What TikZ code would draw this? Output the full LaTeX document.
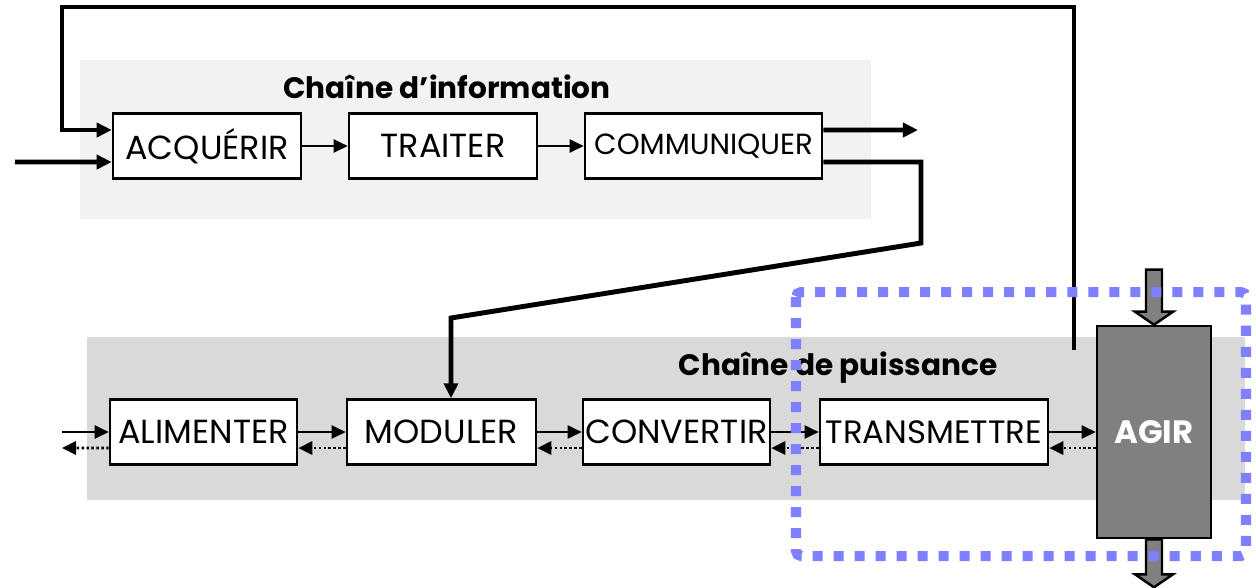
\documentclass[tikz,border=0pt]{standalone}
\usepackage{fontspec}
\setmainfont{Poppins}
\usetikzlibrary{arrows.meta}
\definecolor{infobg}{HTML}{F2F2F2}
\definecolor{powerbg}{HTML}{D9D9D9}
\definecolor{agirgray}{HTML}{808080}
\definecolor{zone}{HTML}{8080FF}

\tikzset{
  fct/.style={draw, line width=0.7pt, fill=white, inner sep=0pt,
    minimum height=0.65cm, font=\fontsize{9.5}{11}\selectfont},
  flow/.style={line width=0.6pt, -{Triangle[length=0.14cm,width=0.13cm]}},
  back/.style={line width=0.8pt, dash pattern=on 0.7pt off 0.7pt,
    -{Triangle[length=0.14cm,width=0.13cm]}},
  info/.style={line width=1.4pt, line join=miter},
  infoarrow/.style={info, -{Triangle[length=0.15cm,width=0.14cm]}},
  chaintitle/.style={font=\fontsize{8.4}{10}\selectfont\bfseries}
}

\begin{document}
\begin{tikzpicture}[x=0.01cm, y=-0.01cm]
  \useasboundingbox (0,0) rectangle (1256,587);
  % panels
  \fill[infobg] (80,60) rectangle (871,219);
  \fill[powerbg] (87,337) rectangle (1245,500);
  \node[chaintitle] (ttlinfo) at (447,87) {Chaîne d’information};
  \node[chaintitle] (ttlpow) at (838,368) {Chaîne de puissance};

  % chaine d'information
  \node[fct, minimum width=1.88cm] (acq) at (207,146) {ACQUÉRIR};
  \node[fct, minimum width=1.88cm] (trt) at (443,146) {TRAITER};
  \node[fct, minimum width=2.37cm, font=\fontsize{8.3}{10}\selectfont] (com) at (703.5,146) {COMMUNIQUER};
  \draw[flow] (acq) -- (trt);
  \draw[flow] (trt) -- (com);

  % chaine de puissance
  \node[fct, minimum width=1.87cm] (ali) at (203.5,432) {ALIMENTER};
  \node[fct, minimum width=1.89cm] (mod) at (441.5,432) {MODULER};
  \node[fct, minimum width=1.87cm] (cnv) at (676.5,432) {CONVERTIR};
  \node[fct, minimum width=2.28cm, font=\fontsize{9.2}{11}\selectfont] (trm) at (934,432) {TRANSMETTRE};
  \node[draw, line width=0.7pt, fill=agirgray, text=white, inner sep=0pt,
    minimum width=1.14cm, minimum height=2.12cm,
    font=\fontsize{9.2}{11}\selectfont\bfseries] (agir) at (1154,432) {AGIR};

  \coordinate (ein) at (62,432);
  \coordinate (eout) at (62,448);
  \draw[flow] (ein) -- (ali.west);
  \draw[back] ([yshift=-0.16cm]ali.west) -- (eout);
  \foreach \a/\b in {ali/mod, mod/cnv, cnv/trm, trm/agir} {
    \draw[flow] (\a.east) -- (\b.west);
    \draw[back] ([yshift=-0.16cm]\b.west) -- ([yshift=-0.16cm]\a.east);
  }

  % liaisons information
  \coordinate (src) at (15,162);
  \coordinate (fb) at (1074,350);
  \coordinate (fbtop) at (62,7);
  \coordinate (comout) at (918,130);
  \coordinate (bendA) at (921,243);
  \coordinate (bendB) at (451,318);
  \draw[infoarrow] (src) -- ([yshift=-0.16cm]acq.west);
  \draw[infoarrow] (fb) |- (fbtop) |- ([yshift=0.16cm]acq.west);
  \draw[infoarrow] ([yshift=0.16cm]com.east) -- (comout);
  \draw[infoarrow] ([yshift=-0.16cm]com.east) -| (bendA) -- (bendB) -- (bendB |- mod.north);

  % fleches matiere d'oeuvre
  \draw[fill=agirgray, line width=0.7pt] (agir.north) -- ++(-19,-13) -- ++(11,0) -- ++(0,-42)
    -- ++(16,0) -- ++(0,42) -- ++(11,0) -- cycle;
  \draw[fill=agirgray, line width=0.7pt] ([xshift=-0.08cm]agir.south) -- ++(0,35) -- ++(-11,0)
    -- ++(19,13) -- ++(19,-13) -- ++(-11,0) -- ++(0,-35) -- cycle;

  % zone etudiee
  \draw[zone, line width=0.1cm, dash pattern=on 0.1cm off 0.11cm, rounded corners=0.05cm]
    (796,292) rectangle (1246,556);
\end{tikzpicture}
\end{document}
